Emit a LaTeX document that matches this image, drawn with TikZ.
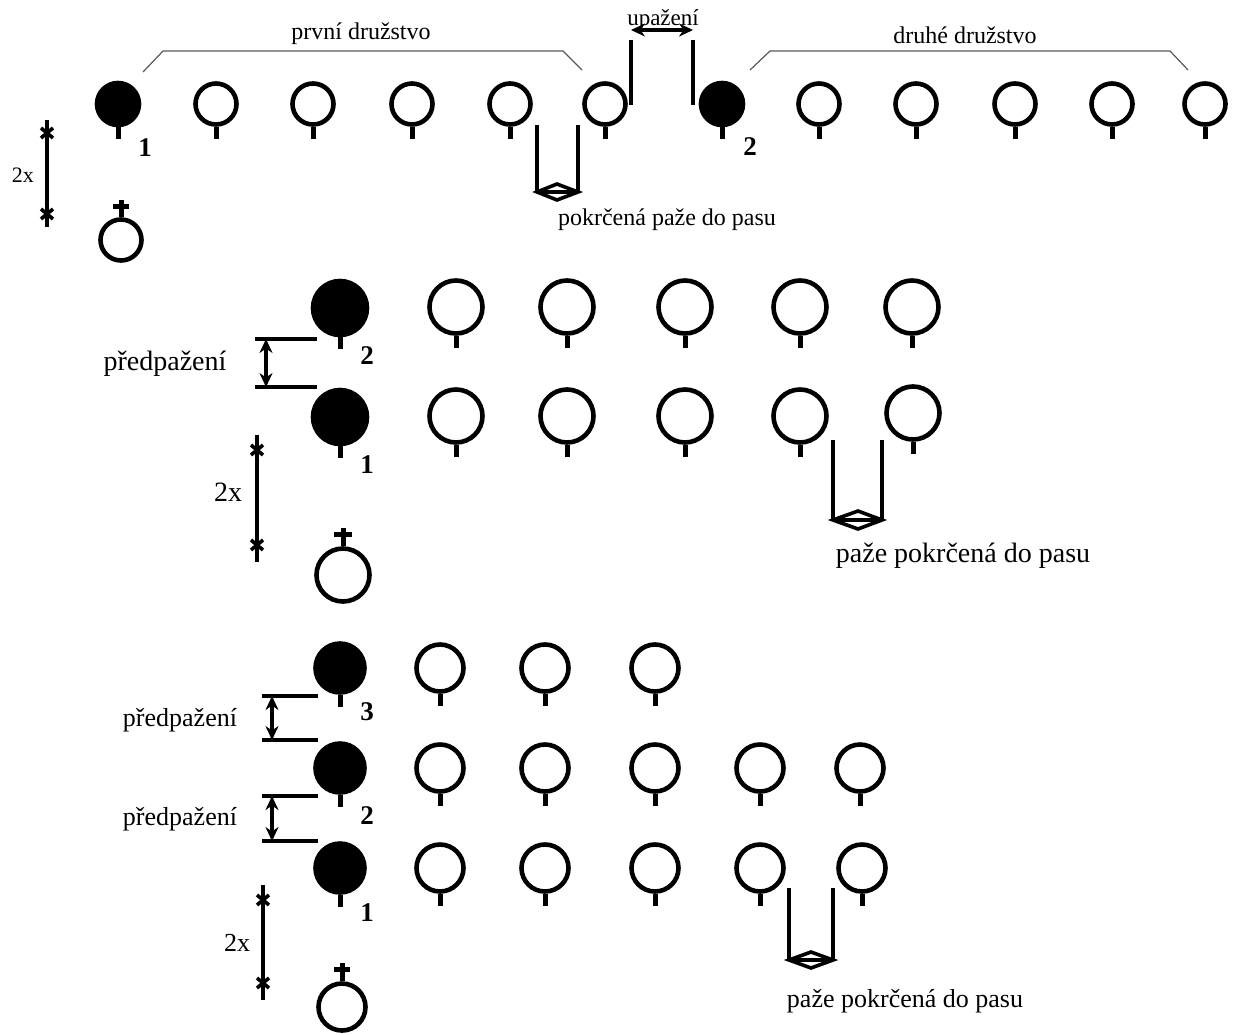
\documentclass[tikz,border=0pt]{standalone}
\usepackage{fontspec}
\setmainfont{Liberation Serif}
\usetikzlibrary{arrows.meta}

\tikzset{
  stem/.style={draw, line width=5pt},
  pupil/.style={circle, draw, line width=4.6pt, inner sep=0pt, minimum size=#1,
    append after command={(\tikzlastnode.south) edge[stem] ++(0,12)}},
  leader/.style={pupil=#1, fill=black},
  trainer/.style={circle, draw, line width=4.6pt, inner sep=0pt, minimum size=#1},
  num/.style={font=\bfseries\fontsize{27}{29}\selectfont, inner sep=0pt},
  txt/.style={font=\fontsize{#1}{#1}\selectfont, inner sep=0pt},
  bar/.style={line width=4.4pt},
  tick/.style={line width=3.6pt},
  span/.style={bar, {Stealth[length=14pt,width=13pt]}-{Stealth[length=14pt,width=13pt]}},
  brace/.style={line width=1.2pt, black!65}
}

\begin{document}
\begin{tikzpicture}[x=1pt, y=-1pt]
    \useasboundingbox (0,0) rectangle (1234,1034);
    % first lineup
    \node [leader=42] (a1) at (118,104) {};
    \node [pupil=41] (a2) at (216,104) {};
    \node [pupil=41] (a3) at (313,104) {};
    \node [pupil=41] (a4) at (412,104) {};
    \node [pupil=41] (a5) at (510,104) {};
    \node [pupil=41] (a6) at (605,104) {};
    \node [leader=42] (b1) at (722,104) {};
    \node [pupil=41] (b2) at (819,104) {};
    \node [pupil=41] (b3) at (916,104) {};
    \node [pupil=41] (b4) at (1015,104) {};
    \node [pupil=41] (b5) at (1112,104) {};
    \node [pupil=41] (b6) at (1205,104) {};
    \node [num] (na1) at (145,148) {1};
    \node [num] (nb1) at (750,147) {2};
    \draw [brace] (143,72) -- (163,51) -- (563,51) -- (582,70);
    \node [txt=24] (prvni) at (361,34) {první družstvo};
    \draw [brace] (750,70) -- (770,51) -- (1170,51) -- (1188,70);
    \node [txt=24] (druhe) at (965,35) {druhé družstvo};
    \coordinate (upL) at (631,40);
    \coordinate (upR) at (693,40);
    \draw [bar] (upL) -- ++(0,65);
    \draw [bar] (upR) -- ++(0,65);
    \draw [span] ([yshift=10pt]upL) -- ([yshift=10pt]upR);
    \node [txt=23] (upazeni) at (663,20) {upažení};
    \draw [bar] (537,125) -- (537,192);
    \draw [bar] (578,125) -- (578,192);
    \draw [tick] (537,192) -- (557,184) -- (578,192) -- (557,200) -- cycle (537,192) -- (578,192);
    \node [txt=24] (pokrcA) at (667,220) {pokrčená paže do pasu};
    \draw [bar] (47,120) -- (47,227);
    \draw [tick] (41,128) -- (53,138) (41,138) -- (53,128);
    \draw [tick] (41,209) -- (53,219) (41,219) -- (53,209);
    \node [txt=22] (twoA) at (23,175) {2x};
    \node [trainer=41] (tr1) at (121,240) {};
    \draw [stem] (tr1.north) -- ++(0,-17);
    \draw [stem] ([shift={(-8,-11)}]tr1.north) -- ++(16,0);

    % second lineup
    \node [leader=54] (c1) at (340,308) {};
    \node [pupil=53] (c2) at (456,307) {};
    \node [pupil=53] (c3) at (567,307) {};
    \node [pupil=53] (c4) at (685,307) {};
    \node [pupil=53] (c5) at (800,307) {};
    \node [pupil=53] (c6) at (912,307) {};
    \node [leader=54] (d1) at (340,417) {};
    \node [pupil=53] (d2) at (456,416) {};
    \node [pupil=53] (d3) at (567,416) {};
    \node [pupil=53] (d4) at (685,416) {};
    \node [pupil=53] (d5) at (800,416) {};
    \node [pupil=53] (d6) at (913,413) {};
    \node [num] (nc1) at (367,356) {2};
    \node [num] (nd1) at (367,465) {1};
    \draw [bar] (255,339) -- (317,339);
    \draw [bar] (255,387) -- (317,387);
    \draw [span] (266,339) -- (266,387);
    \node [txt=28] (predA) at (165,364) {předpažení};
    \draw [bar] (833,440) -- (833,520);
    \draw [bar] (882,440) -- (882,520);
    \draw [tick] (833,520) -- (858,511) -- (882,520) -- (858,529) -- cycle (833,520) -- (882,520);
    \node [txt=28] (pokrcB) at (963,556) {paže pokrčená do pasu};
    \draw [bar] (257,435) -- (257,562);
    \draw [tick] (251,445) -- (263,455) (251,455) -- (263,445);
    \draw [tick] (251,540) -- (263,550) (251,550) -- (263,540);
    \node [txt=28] (twoB) at (228,492) {2x};
    \node [trainer=53] (tr2) at (343,575) {};
    \draw [stem] (tr2.north) -- ++(0,-18);
    \draw [stem] ([shift={(-9,-12)}]tr2.north) -- ++(18,0);

    % third lineup
    \node [leader=49] (e1) at (340,668) {};
    \node [pupil=47] (e2) at (440,668) {};
    \node [pupil=47] (e3) at (545,668) {};
    \node [pupil=47] (e4) at (655,668) {};
    \node [leader=49] (f1) at (340,768) {};
    \node [pupil=47] (f2) at (440,768) {};
    \node [pupil=47] (f3) at (545,768) {};
    \node [pupil=47] (f4) at (655,768) {};
    \node [pupil=47] (f5) at (760,768) {};
    \node [pupil=47] (f6) at (860,768) {};
    \node [leader=49] (g1) at (340,868) {};
    \node [pupil=47] (g2) at (440,868) {};
    \node [pupil=47] (g3) at (545,868) {};
    \node [pupil=47] (g4) at (655,868) {};
    \node [pupil=47] (g5) at (760,868) {};
    \node [pupil=47] (g6) at (862,868) {};
    \node [num] (ne1) at (367,712) {3};
    \node [num] (nf1) at (367,816) {2};
    \node [num] (ng1) at (367,913) {1};
    \draw [bar] (262,696) -- (318,696);
    \draw [bar] (262,740) -- (318,740);
    \draw [span] (272,696) -- (272,740);
    \node [txt=26] (predB) at (180,720) {předpažení};
    \draw [bar] (262,796) -- (318,796);
    \draw [bar] (262,841) -- (318,841);
    \draw [span] (272,796) -- (272,841);
    \node [txt=26] (predC) at (180,819) {předpažení};
    \draw [bar] (789,888) -- (789,960);
    \draw [bar] (833,888) -- (833,960);
    \draw [tick] (789,960) -- (811,952) -- (833,960) -- (811,968) -- cycle (789,960) -- (833,960);
    \node [txt=26] (pokrcC) at (905,1001) {paže pokrčená do pasu};
    \draw [bar] (263,885) -- (263,1000);
    \draw [tick] (257,895) -- (269,905) (257,905) -- (269,895);
    \draw [tick] (257,978) -- (269,988) (257,988) -- (269,978);
    \node [txt=26] (twoC) at (237,943) {2x};
    \node [trainer=47] (tr3) at (342,1007) {};
    \draw [stem] (tr3.north) -- ++(0,-18);
    \draw [stem] ([shift={(-8,-12)}]tr3.north) -- ++(16,0);
\end{tikzpicture}
\end{document}
